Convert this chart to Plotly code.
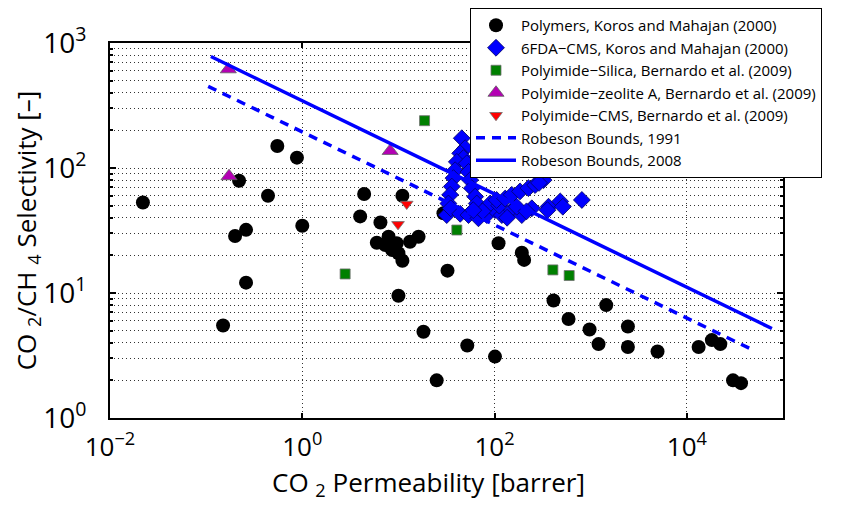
import plotly.graph_objects as go

# ---- data ----
poly_P = [0.022, 0.22, 0.55, 0.88, 0.44, 4.4, 11, 4.0, 6.5, 0.26, 0.20, 1.0,
          5.96, 7.9, 9.6, 10, 11, 13.2, 16.2, 7.3, 8.6, 32.4, 0.26, 10, 0.15,
          18.2, 25, 29.4, 110, 192, 203, 52, 101, 410, 588, 973, 1206, 1450,
          2437, 2437, 4953, 13250, 18200, 22300, 30200, 36600]
poly_S = [53, 79, 150, 121, 60, 62, 60, 41, 36.6, 32, 28.6, 34.5,
          25.2, 28.2, 25, 20.8, 18.1, 25.7, 28.2, 24.2, 22.1, 15.1, 12.1, 9.5, 5.5,
          4.9, 2.0, 43.4, 25, 21, 18.4, 3.8, 3.1, 8.7, 6.2, 5.1, 3.9, 8.0,
          5.4, 3.7, 3.4, 3.7, 4.2, 3.9, 2.0, 1.9]

cms_P = [45.6, 49.4, 43.9, 47.5, 40.5, 51.4, 38.9, 53.6, 37.4, 55.7, 35.9, 58, 34.5, 62.8, 33.1, 65.3,
         31.8, 35, 43.9, 53.6, 68, 83, 101, 119, 151, 192, 244, 90, 75, 60, 112, 135, 170, 215,
         105, 129, 151, 184, 225, 264, 323, 290,
         364, 355, 482, 513, 809]
cms_S = [173, 144, 131, 120, 112, 109, 96, 93, 83, 80, 71, 69, 61, 59, 52, 52,
         42, 47.6, 43, 42, 39.6, 42, 46, 42, 46, 42, 47.6, 52, 45, 46, 50, 40, 49, 45,
         55.5, 57, 61, 65, 69, 73, 80, 76,
         49, 46, 54, 49, 55.5]

silica_P = [18.7, 40.5, 2.79, 404, 597]
silica_S = [239, 31.9, 14.2, 15.3, 13.8]

zeo_P = [0.17, 8.2, 0.173]
zeo_S = [616, 137, 86]

pcms_P = [12.2, 9.9]
pcms_S = [51.5, 35.4]

rob1991_P = [0.105, 48600]
rob1991_S = [450, 3.5]
rob2008_P = [0.112, 76700]
rob2008_S = [780, 5.2]

x_ticks = [1e-2, 1, 1e2, 1e4]
x_tick_text = ["10<sup>−2</sup>", "10<sup>0</sup>", "10<sup>2</sup>", "10<sup>4</sup>"]
y_ticks = [1, 10, 100, 1000]
y_tick_text = ["10<sup>0</sup>", "10<sup>1</sup>", "10<sup>2</sup>", "10<sup>3</sup>"]
y_minor = [m * 10 ** k for k in range(0, 3) for m in range(2, 10)]

x_title = "CO <sub>2</sub> Permeability [barrer]"
y_title = "CO <sub>2</sub>/CH <sub>4</sub> Selectivity [–]"

FONT = "Open Sans"
# page body has an 8px margin, figure origin sits at (8, 8)
OFF = 8
PL, PR, PT, PB = 110, 783, 43, 418   # plot box in page pixels

fig = go.Figure()
fig.add_trace(go.Scatter(x=poly_P, y=poly_S, mode="markers",
                         name="Polymers, Koros and Mahajan (2000)",
                         marker=dict(symbol="circle", size=14, color="black",
                                     line=dict(width=0))))
fig.add_trace(go.Scatter(x=cms_P, y=cms_S, mode="markers",
                         name="6FDA−CMS, Koros and Mahajan (2000)",
                         marker=dict(symbol="diamond", size=13, color="#0000FF",
                                     line=dict(width=0.8, color="#000060"))))
fig.add_trace(go.Scatter(x=silica_P, y=silica_S, mode="markers",
                         name="Polyimide−Silica, Bernardo et al. (2009)",
                         marker=dict(symbol="square", size=10, color="#008000",
                                     line=dict(width=0.8, color="#707070"))))
fig.add_trace(go.Scatter(x=zeo_P, y=zeo_S, mode="markers",
                         name="Polyimide−zeolite A, Bernardo et al. (2009)",
                         marker=dict(symbol="triangle-up", size=14, color="#B400B4",
                                     line=dict(width=0.8, color="#606060"))))
fig.add_trace(go.Scatter(x=pcms_P, y=pcms_S, mode="markers",
                         name="Polyimide−CMS, Bernardo et al. (2009)",
                         marker=dict(symbol="triangle-down", size=11, color="#FF0000",
                                     line=dict(width=0.8, color="#707070"))))
fig.add_trace(go.Scatter(x=rob1991_P, y=rob1991_S, mode="lines",
                         name="Robeson Bounds, 1991",
                         line=dict(color="#0000FF", width=3.5, dash="9px,7px")))
fig.add_trace(go.Scatter(x=rob2008_P, y=rob2008_S, mode="lines",
                         name="Robeson Bounds, 2008",
                         line=dict(color="#0000FF", width=3.5)))

grid_style = dict(gridcolor="#333333", gridwidth=1, griddash="1px,3px")

fig.update_layout(
    width=856, height=506,
    margin=dict(l=PL - OFF, r=856 - (PR - OFF), t=PT - OFF, b=506 - (PB - OFF),
                autoexpand=False),
    paper_bgcolor="white", plot_bgcolor="white",
    font=dict(family=FONT, color="black"),
    showlegend=True,
    legend=dict(xref="container", yref="container",
                x=(470 - OFF) / 856, y=1, xanchor="left", yanchor="top",
                bgcolor="white", bordercolor="black", borderwidth=1,
                font=dict(family=FONT, size=15), itemwidth=40,
                tracegroupgap=0),
    xaxis=dict(type="log", range=[-2, 5],
               tickmode="array", tickvals=x_ticks, ticktext=x_tick_text,
               tickfont=dict(size=26, family=FONT), ticklabelstandoff=5,
               ticks="inside", ticklen=5, tickwidth=1.5, tickcolor="black",
               showline=True, linecolor="black", linewidth=2, mirror="allticks",
               showgrid=True, **grid_style, zeroline=False),
    yaxis=dict(type="log", range=[0, 3],
               tickmode="array", tickvals=y_ticks, ticktext=y_tick_text,
               tickfont=dict(size=28, family=FONT), ticklabelstandoff=16,
               ticks="inside", ticklen=6, tickwidth=1.5, tickcolor="black",
               showline=True, linecolor="black", linewidth=2, mirror="allticks",
               showgrid=True, **grid_style, zeroline=False,
               minor=dict(tickmode="array", tickvals=y_minor, ticks="inside",
                          ticklen=3, tickcolor="black", showgrid=True,
                          **grid_style),
               title=dict(text=y_title, font=dict(size=26, family=FONT), standoff=4)),
    annotations=[dict(text=x_title, xref="paper", yref="paper",
                      x=(428 - PL) / (PR - PL), y=-(462 - PB) / (PB - PT),
                      xanchor="center", yanchor="top", showarrow=False,
                      font=dict(size=26, family=FONT))],
)

fig.write_html("out.html")
